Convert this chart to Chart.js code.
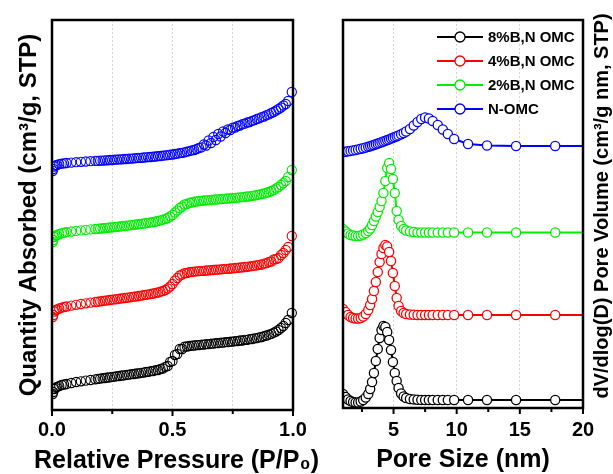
<!DOCTYPE html>
<html>
<head>
<meta charset="utf-8">
<script src="https://cdn.jsdelivr.net/npm/chart.js@4/dist/chart.umd.min.js"></script>
<style>
  body { margin: 0; background: #fff; }
  #wrap { position: relative; width: 613px; height: 474px; }
  #left { position: absolute; left: 0; top: 0; z-index: 2; }
  #right { position: absolute; left: 300px; top: 0; z-index: 1; }
</style>
</head>
<body>
<div id="wrap">
  <canvas id="left" width="340" height="474"></canvas>
  <canvas id="right" width="313" height="474"></canvas>
</div>
<script>
// ---- isotherms (arbitrary offset units) ----
const pressureAds = [0.003,0.005,0.01,0.015,0.02,0.03,0.04,0.05,0.06,0.08,0.10,0.12,0.14,0.16,0.18,0.20,0.22,0.24,0.26,0.28,0.30,0.32,0.34,0.36,0.38,0.40,0.42,0.44,0.46,0.48,0.50,0.52,0.54,0.56,0.58,0.60,0.62,0.64,0.66,0.68,0.70,0.72,0.74,0.76,0.78,0.80,0.82,0.84,0.86,0.88,0.90,0.92,0.94,0.96,0.98,0.995]
const pressureDes = [0.97,0.95,0.93,0.91,0.89,0.87,0.85,0.83,0.81,0.79,0.77,0.75,0.73,0.71,0.69,0.67,0.65,0.63,0.61,0.59,0.57,0.55,0.53,0.51,0.49,0.47,0.45,0.43,0.41,0.39,0.37,0.35,0.33,0.31,0.29,0.27,0.25,0.23,0.21,0.19]

const ads8 = [16,18,21,22.2,23,24,25,25.5,26,27,28,28.7,29.4,30,30.7,31.3,32,32.6,33.3,34,34.6,35.3,36,36.7,37.4,38.2,39,40,41.5,44,49,56,61,63.5,64.3,64.9,65.4,65.9,66.3,66.8,67.3,67.8,68.3,68.9,69.5,70.2,70.9,71.7,72.6,73.8,75.3,77.3,80,84,90,97]
const des8 = [87,82,78.5,76.2,74.5,73,71.9,71,70.2,69.5,68.9,68.3,67.8,67.3,66.8,66.3,65.8,65.3,64.9,64.5,64,63.3,61,55,48,43.2,41,39.8,38.8,38,37.2,36.5,35.8,35.1,34.5,33.8,33.1,32.5,31.8,31.2]

const ads4 = [93,95,98.5,99.7,100.5,101.5,102.3,103,103.5,104.4,105.2,106,106.7,107.4,108,108.7,109.3,110,110.6,111.3,112,112.6,113.3,114,114.8,115.6,116.5,117.5,119,121.5,126,132,135.5,137,138,138.6,139.1,139.5,139.9,140.3,140.7,141.1,141.5,142,142.5,143,143.6,144.3,145.2,146.4,148,150.5,152,157,163,174]
const des4 = [160,155,151,148.5,146.8,145.5,144.6,143.8,143.2,142.6,142.1,141.6,141.2,140.8,140.4,140,139.6,139.2,138.8,138.4,137.8,136.8,134.5,129.5,123.5,120,118.3,117,116,115.2,114.4,113.6,112.9,112.2,111.6,110.9,110.3,109.6,109,108.3]

const ads2 = [168,170,173,174.2,175,176,176.7,177.3,177.8,178.5,179.1,179.6,180.1,180.6,181,181.5,182,182.5,183,183.5,184,184.6,185.2,185.8,186.5,187.2,188,189,190.3,192,195,199.5,203.5,206,207.5,208.5,209.2,209.7,210.1,210.5,210.9,211.3,211.7,212.1,212.6,213.1,213.7,214.4,215.3,216.5,218,220,223,227,233,240]
const des2 = [229,225,221.5,219,217.3,216,215,214.2,213.5,212.9,212.4,211.9,211.5,211.1,210.7,210.3,209.9,209.5,209,208.4,207.4,205.5,202,197.5,193.5,191,189.6,188.5,187.6,186.8,186.1,185.5,184.9,184.3,183.8,183.2,182.7,182.2,181.7,181.2]

const adsN = [239,241,243.5,244.4,245,245.8,246.3,246.7,247,247.4,247.8,248.2,248.5,248.8,249.1,249.4,249.7,250,250.4,250.7,251,251.4,251.7,252.1,252.5,252.9,253.3,253.8,254.3,254.9,255.5,256.3,257.2,258.3,259.6,261,262.6,264.5,267,270,273.5,277,280,282.5,284.5,286.3,288,289.8,291.6,293.5,295.6,298,301,304.5,309,318]
const desN = [306,302.5,299.5,297,294.8,292.8,291,289.2,287.5,285.8,284,282.3,280.5,278.5,276,273,269.5,265.5,262,260,258.8,257.7,256.8,256,255.3,254.6,254,253.5,253,252.6,252.2,251.8,251.4,251,250.7,250.3,250,249.7,249.4,249.1]

// ---- pore size distribution (arbitrary offset units) ----
const poreSize = [1.0,1.2,1.4,1.6,1.8,2.0,2.2,2.4,2.6,2.8,3.0,3.15,3.3,3.45,3.6,3.75,3.9,4.05,4.2,4.35,4.5,4.65,4.8,4.95,5.1,5.25,5.4,5.6,5.8,6.0,6.3,6.6,6.9,7.2,7.5,7.8,8.1,8.5,8.9,9.3,9.8,10.9,12.4,14.7,17.8,22.5]
const psd8 = [16,13,10.5,9,8,7.5,7.5,8.5,10,12.5,16,21,28,37,49,61,72,80,84,83,78,70,60,48,37,29,22,16.5,13.5,12,11,10.6,10.3,10.1,10,10,10,10,10,10,10,10,10,10,10,10]
const psd4 = [101,98,95,93,92,91.5,91.5,92,93.5,96,100,105,111,119,128,138,148,156,162,165,163.5,158,149,137,124,112,104,99,97,96,95.5,95.2,95,95,95,95,95,95,95,95,95,95,95,95,95,95]
const psd2 = [181,178.5,176.5,175,174.5,174,174,174.5,175.5,177,179,181.5,185,189,193.5,198,203,209,217,229,242,247,241,231,217,199,190,184,181,179.5,178.5,178,177.5,177.5,177.5,177.5,177.5,177.5,177.5,177.5,177.5,177.5,177.5,177.5,177.5,177.5]
const psdN = [258,258.3,258.7,259.1,259.6,260.1,260.6,261.2,261.8,262.5,263.2,263.8,264.4,265,265.7,266.4,267.1,267.8,268.5,269.2,269.9,270.6,271.4,272.2,273,273.8,274.6,275.8,277,278.5,281,284.5,288,291,292.5,291.5,289,285,280.5,276,271,266,264.5,264,264,264]

const seriesNames = ['8%B,N OMC', '4%B,N OMC', '2%B,N OMC', 'N-OMC']
const seriesColors = ['#000000', '#ff0000', '#00ee00', '#0000ff']

const pressureGrid = [0, 0.25, 0.5, 0.75, 1.0]
const pressureLabels = [0, 0.5, 1.0]
const pressureMinor = [0.25, 0.75]
const poreLabels = [5, 10, 15, 20]
const poreGrid = [5, 10, 15, 20]
const poreMinor = [2.5, 7.5, 12.5, 17.5]

const FONT = '"Liberation Sans", Arial, sans-serif'
Chart.defaults.font.family = FONT
Chart.defaults.color = '#000'

function pts(xs, ys) { return xs.map((x, i) => ({ x: x, y: ys[i] })) }

// frame round the plot plus outward tick marks
function frameTicks(major, minor) {
  return {
    id: 'frameTicks',
    afterDraw(chart) {
      const { ctx, chartArea: a } = chart
      const sx = chart.scales.x
      ctx.save()
      ctx.strokeStyle = '#000'
      ctx.lineWidth = 2
      major.forEach(v => {
        const x = sx.getPixelForValue(v)
        ctx.beginPath(); ctx.moveTo(x, a.bottom); ctx.lineTo(x, a.bottom + 6); ctx.stroke()
      })
      minor.forEach(v => {
        const x = sx.getPixelForValue(v)
        ctx.beginPath(); ctx.moveTo(x, a.bottom); ctx.lineTo(x, a.bottom + 4); ctx.stroke()
      })
      ctx.lineWidth = 2.5
      ctx.strokeRect(a.left, a.top, a.right - a.left, a.bottom - a.top)
      ctx.restore()
    }
  }
}

// x title of the left panel is wider than its plot, so it is drawn here
const pressureTitle = {
  id: 'pressureTitle',
  afterDraw(chart) {
    const ctx = chart.ctx
    const a = chart.chartArea
    ctx.save()
    ctx.fillStyle = '#000'
    ctx.font = 'bold 25px ' + FONT
    ctx.textAlign = 'center'
    ctx.textBaseline = 'middle'
    ctx.fillText('Relative Pressure (P/P₀)', (a.left + a.right) / 2 + 4, 461)
    ctx.restore()
  }
}

const isoData = [[ads8, des8], [ads4, des4], [ads2, des2], [adsN, desN]]

new Chart(document.getElementById('left'), {
  type: 'scatter',
  data: {
    datasets: isoData.map((d, i) => ({
      label: seriesNames[i],
      data: pts(pressureAds, d[0]).concat(pts(pressureDes, d[1])),
      borderColor: seriesColors[i],
      backgroundColor: 'rgba(0,0,0,0)',
      pointRadius: 4.6,
      pointBorderWidth: 1.1,
      showLine: false,
      clip: { left: 0, right: 6, top: 6, bottom: 0 }
    }))
  },
  options: {
    responsive: false,
    animation: false,
    devicePixelRatio: 1,
    layout: { padding: { top: 20, right: 47, bottom: 0, left: 0 } },
    plugins: { legend: { display: false }, tooltip: { enabled: false } },
    scales: {
      x: {
        type: 'linear', min: 0, max: 1,
        afterBuildTicks: s => { s.ticks = pressureGrid.map(v => ({ value: v })) },
        afterFit: s => { s.height = 64; s.paddingLeft = 0; s.paddingRight = 0 },
        ticks: {
          padding: 8,
          font: { size: 20, weight: 'bold' },
          maxRotation: 0,
          callback: v => pressureLabels.includes(v) ? v.toFixed(1) : ''
        },
        grid: {
          drawTicks: false,
          lineWidth: 1,
          color: c => (c.tick && (c.tick.value === 0 || c.tick.value === 1)) ? 'rgba(0,0,0,0)' : '#d4d4d4'
        },
        border: { display: false, dash: [2, 2] }
      },
      y: {
        min: 0, max: 390,
        afterFit: s => { s.width = 52 },
        ticks: { display: false },
        grid: { display: false },
        border: { display: false },
        title: {
          display: true,
          text: 'Quantity Absorbed (cm³/g, STP)',
          font: { size: 24, weight: 'bold', lineHeight: 1 },
          padding: { top: 17, bottom: 0 }
        }
      }
    }
  },
  plugins: [frameTicks(pressureLabels, pressureMinor), pressureTitle]
})

const psdData = [psd8, psd4, psd2, psdN]

const sideLegend = {
  id: 'sideLegend',
  afterDraw(chart) {
    const ctx = chart.ctx
    ctx.save()
    chart.data.datasets.forEach((ds, i) => {
      const y = 37 + i * 24
      ctx.strokeStyle = ds.borderColor
      ctx.lineWidth = 2
      ctx.beginPath(); ctx.moveTo(137, y); ctx.lineTo(183, y); ctx.stroke()
      ctx.fillStyle = '#fff'
      ctx.lineWidth = 1.3
      ctx.beginPath(); ctx.arc(160, y, 5, 0, Math.PI * 2); ctx.fill(); ctx.stroke()
      ctx.fillStyle = '#000'
      ctx.font = 'bold 15px ' + FONT
      ctx.textBaseline = 'middle'
      ctx.textAlign = 'left'
      ctx.fillText(ds.label, 188, y + 1)
    })
    // right-hand axis title, reading upwards
    ctx.translate(302, 206)
    ctx.rotate(-Math.PI / 2)
    ctx.textAlign = 'center'
    ctx.textBaseline = 'middle'
    ctx.font = 'bold 20px ' + FONT
    ctx.fillText('dV/dlog(D) Pore Volume (cm³/g nm, STP)', 0, 0)
    ctx.restore()
  }
}

new Chart(document.getElementById('right'), {
  type: 'scatter',
  data: {
    datasets: psdData.map((d, i) => ({
      label: seriesNames[i],
      data: pts(poreSize, d),
      borderColor: seriesColors[i],
      backgroundColor: '#fff',
      pointBackgroundColor: '#fff',
      borderWidth: 2,
      pointRadius: 4.6,
      pointBorderWidth: 1.3,
      showLine: true,
      tension: 0,
      clip: { left: 0, right: 0, top: 6, bottom: 6 }
    }))
  },
  options: {
    responsive: false,
    animation: false,
    devicePixelRatio: 1,
    layout: { padding: { top: 20, right: 30, bottom: 0, left: 43 } },
    plugins: { legend: { display: false }, tooltip: { enabled: false } },
    scales: {
      x: {
        type: 'linear', min: 1, max: 20,
        afterBuildTicks: s => { s.ticks = poreGrid.map(v => ({ value: v })) },
        afterFit: s => { s.height = 66; s.paddingLeft = 0; s.paddingRight = 0 },
        ticks: {
          padding: 10,
          font: { size: 20, weight: 'bold' },
          maxRotation: 0,
          callback: v => poreLabels.includes(v) ? String(v) : ''
        },
        grid: {
          drawTicks: false,
          lineWidth: 1,
          color: c => (c.tick && c.tick.value === 20) ? 'rgba(0,0,0,0)' : '#d4d4d4'
        },
        border: { display: false, dash: [2, 2] },
        title: {
          display: true,
          text: 'Pore Size (nm)',
          font: { size: 25, weight: 'bold', lineHeight: 1 },
          padding: { top: 0, bottom: 1 }
        }
      },
      y: { display: false, min: 2, max: 390 }
    }
  },
  plugins: [frameTicks(poreLabels, poreMinor), sideLegend]
})
</script>
</body>
</html>
